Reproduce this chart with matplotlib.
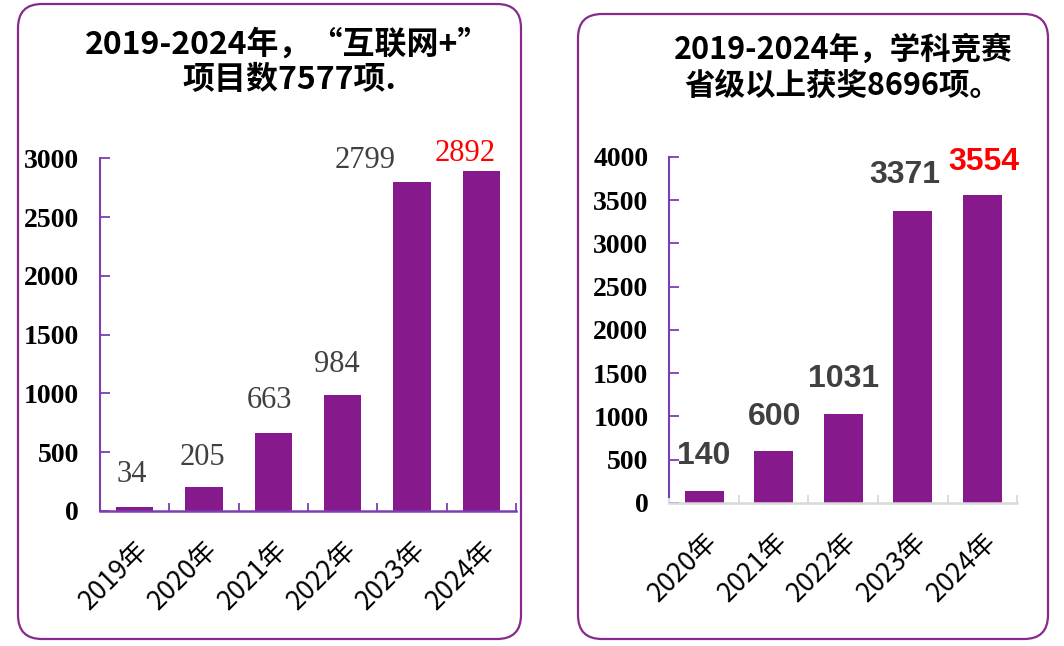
import numpy as np
import matplotlib.pyplot as plt
from matplotlib.patches import FancyBboxPatch

plt.rcParams['font.family'] = ['Noto Sans CJK SC', 'DejaVu Sans']

# left chart: 互联网+ projects
years_a = ['2019年', '2020年', '2021年', '2022年', '2023年', '2024年']
values_a = [34, 205, 663, 984, 2799, 2892]
title_a = ['2019-2024年，“互联网+”', '项目数7577项.']

# right chart: competition awards
years_b = ['2020年', '2021年', '2022年', '2023年', '2024年']
values_b = [140, 600, 1031, 3371, 3554]
title_b = ['2019-2024年，学科竞赛', '省级以上获奖8696项。']

# label nudges (points) to match the hand-placed labels of the original
nudge_a = [(-2, 13), (-1, 11), (-3, 13), (-4, 12), (-34, 5), (-12, 2)]
nudge_b = [(0, 14), (1, 14), (0, 14), (-6, 15), (1, 13)]

bar_color = '#861A8C'
spine_purple = '#7B3FB0'
label_gray = '#404040'

fig = plt.figure(figsize=(10.64, 6.46), dpi=100)

# background layer in pixel coords for the rounded boxes and titles
bg = fig.add_axes([0, 0, 1, 1])
bg.set_xlim(0, 1064)
bg.set_ylim(646, 0)
bg.axis('off')
bg.add_patch(FancyBboxPatch((18, 4), 503, 635, boxstyle='round,pad=0,rounding_size=24',
                            fc='white', ec='#862A8E', lw=1.6))
bg.add_patch(FancyBboxPatch((578, 14), 470, 625, boxstyle='round,pad=0,rounding_size=24',
                            fc='white', ec='#862A8E', lw=1.6))
bg.text(288, 45, title_a[0], ha='center', va='center', fontsize=23, fontweight='bold')
bg.text(289, 80, title_a[1], ha='center', va='center', fontsize=23, fontweight='bold')
bg.text(843, 50, title_b[0], ha='center', va='center', fontsize=22, fontweight='bold')
bg.text(842, 86, title_b[1], ha='center', va='center', fontsize=22, fontweight='bold')

serif = ['Liberation Serif', 'DejaVu Serif']


def style_axes(ax, n, xcolor):
    ax.set_xlim(0, n)
    for s in ['top', 'right']:
        ax.spines[s].set_visible(False)
    ax.spines['left'].set_color(spine_purple)
    ax.spines['left'].set_linewidth(1.5)
    ax.spines['bottom'].set_color(xcolor)
    ax.spines['bottom'].set_linewidth(1.8)
    ax.tick_params(axis='y', direction='in', length=7, color=spine_purple, width=1.3, pad=15)
    ax.set_xticks(np.arange(n + 1), minor=True)
    ax.tick_params(axis='x', which='minor', direction='in', length=6, color=xcolor, width=1.3)
    ax.tick_params(axis='x', which='major', length=0, pad=18)
    for lbl in ax.get_yticklabels():
        lbl.set_fontfamily(serif)
        lbl.set_fontweight('bold')
        lbl.set_fontsize(20)


# ---- left chart
ax1 = fig.add_axes([0.094, 0.209, 0.391, 0.546])
x1 = np.arange(len(years_a)) + 0.5
ax1.bar(x1, values_a, width=0.54, color=bar_color)
ax1.set_ylim(0, 3000)
ax1.set_yticks(np.arange(0, 3001, 500))
ax1.set_xticks(x1)
ax1.set_xticklabels(years_a, rotation=45, ha='right', rotation_mode='anchor', fontsize=19)
style_axes(ax1, len(years_a), spine_purple)
for i, (xx, v) in enumerate(zip(x1, values_a)):
    col = 'red' if i == len(values_a) - 1 else label_gray
    ax1.annotate(str(v), (xx, v), xytext=nudge_a[i], textcoords='offset points',
                 ha='center', va='bottom', fontsize=22, family=serif, color=col,
                 annotation_clip=False)

# ---- right chart
ax2 = fig.add_axes([0.629, 0.2214, 0.327, 0.536])
x2 = np.arange(len(years_b)) + 0.5
ax2.bar(x2, values_b, width=0.56, color=bar_color)
ax2.set_ylim(0, 4000)
ax2.set_yticks(np.arange(0, 4001, 500))
ax2.set_xticks(x2)
ax2.set_xticklabels(years_b, rotation=45, ha='right', rotation_mode='anchor', fontsize=19)
style_axes(ax2, len(years_b), '#D9D9D9')
ax2.spines['left'].set_bounds(70, 4000)
for i, (xx, v) in enumerate(zip(x2, values_b)):
    col = 'red' if i == len(values_b) - 1 else label_gray
    ax2.annotate(str(v), (xx, v), xytext=nudge_b[i], textcoords='offset points',
                 ha='center', va='bottom', fontsize=23, family=['Liberation Sans', 'DejaVu Sans'],
                 fontweight='bold', color=col, annotation_clip=False)

fig.savefig('out.png', dpi=100)
